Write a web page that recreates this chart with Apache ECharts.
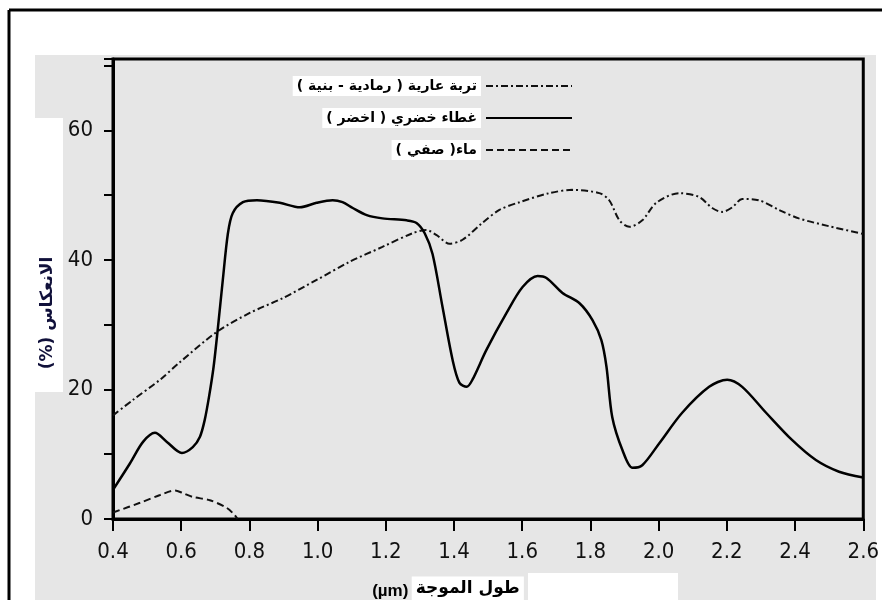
<!DOCTYPE html>
<html>
<head>
<meta charset="utf-8">
<script src="https://cdn.jsdelivr.net/npm/echarts@6/dist/echarts.min.js"></script>
<style>
html,body{margin:0;padding:0;background:#fff;}
#c{width:882px;height:600px;}
</style>
</head>
<body>
<div id="c"></div>
<script>
// ---- data ----
const xTicks = [0.4,0.6,0.8,1.0,1.2,1.4,1.6,1.8,2.0,2.2,2.4,2.6];
const yTicks = [0,20,40,60];

const soilName  = 'تربة عارية ( رمادية - بنية )\u200F';
const vegName   = 'غطاء خضري ( اخضر )\u200F';
const waterName = 'ماء( صفي )\u200F';

const soilX = [0.40,0.459,0.538,0.596,0.705,0.801,0.898,0.997,1.094,1.19,1.278,1.319,1.349,1.387,1.425,1.483,1.533,1.592,1.68,1.747,1.826,1.855,1.885,1.914,1.952,1.993,2.06,2.119,2.157,2.186,2.216,2.245,2.294,2.353,2.411,2.499,2.6];
const soilY = [16.0,18.4,21.5,24.2,28.9,31.8,34.1,36.9,39.7,42.0,44.1,44.6,43.8,42.5,43.1,45.7,47.7,48.9,50.3,50.8,50.3,49.2,46.1,45.1,46.1,48.8,50.3,49.7,48.0,47.4,48.1,49.4,49.2,47.7,46.4,45.2,44.0];

const vegX = [0.40,0.45,0.488,0.523,0.558,0.602,0.634,0.655,0.669,0.682,0.695,0.707,0.722,0.737,0.751,0.781,0.822,0.889,0.948,0.997,1.044,1.073,1.103,1.144,1.19,1.261,1.29,1.314,1.337,1.366,1.396,1.416,1.437,1.454,1.495,1.554,1.601,1.645,1.671,1.718,1.768,1.806,1.832,1.847,1.864,1.894,1.923,1.952,2.002,2.069,2.148,2.201,2.245,2.315,2.391,2.461,2.529,2.6];
const vegY = [4.5,8.6,11.9,13.3,11.9,10.2,11.1,12.7,15.3,19.0,23.5,29.2,36.9,44.1,47.2,48.9,49.2,48.8,48.1,48.8,49.2,48.9,48.0,46.9,46.4,46.1,45.7,44.1,40.9,32.8,24.5,21.0,20.4,21.5,26.1,31.8,35.8,37.5,37.2,34.9,33.3,30.7,27.6,23.5,15.7,10.6,7.9,8.3,11.7,16.4,20.4,21.5,20.4,16.4,12.2,9.1,7.3,6.4];

const waterX = [0.40,0.479,0.538,0.582,0.605,0.634,0.684,0.734,0.757,0.765];
const waterY = [1.0,2.5,3.7,4.4,4.0,3.4,2.9,1.7,0.6,0.0];

const zip = (a,b) => a.map((v,i)=>[v,b[i]]);

const numFont = '"Liberation Sans Narrow","DejaVu Sans Condensed","Liberation Sans",Arial,sans-serif';
const arFont = '"DejaVu Sans","Noto Sans",sans-serif';

const chart = echarts.init(document.getElementById('c'), null, {renderer:'canvas'});

function legendFor(name, top){
  return {
    data:[name], right:309, top:top, padding:0, orient:'vertical', align:'right',
    itemWidth:86, itemHeight:14, selectedMode:false,
    itemStyle:{opacity:0, borderWidth:0},
    textStyle:{color:'#000', fontFamily:arFont, fontWeight:'bold', fontSize:14,
      backgroundColor:'#fff', padding:[3,4,3,4]}
  };
}

chart.setOption({
  animation:false,
  backgroundColor:'#fff',
  color:['#000','#000','#000'],
  graphic:[
    {type:'rect', z:-10, silent:true, shape:{x:35,y:55,width:841,height:545}, style:{fill:'#e6e6e6'}},
    {type:'rect', z:-9, silent:true, shape:{x:35,y:118,width:28,height:274}, style:{fill:'#fff'}},
    {type:'rect', z:-9, silent:true, shape:{x:528,y:573,width:150,height:27}, style:{fill:'#fff'}},
    {type:'line', z:50, silent:true, shape:{x1:9,y1:10,x2:882,y2:10}, style:{stroke:'#000',lineWidth:3}},
    {type:'line', z:50, silent:true, shape:{x1:9,y1:10,x2:9,y2:600}, style:{stroke:'#000',lineWidth:3}},
    {type:'text', z:50, silent:true, x:48, y:313, rotation:Math.PI/2,
      style:{text:'(%) الانعكاس', font:'bold 17px "DejaVu Sans"', fill:'#10103a',
        align:'center', verticalAlign:'middle', backgroundColor:'#fff', padding:[4,5,4,5]}},
    {type:'text', z:50, silent:true, x:448, y:591,
      style:{text:'{a|(µm)} {b|طول الموجة}', align:'center', verticalAlign:'middle',
        rich:{
          a:{font:'bold 17px "Liberation Sans"', fill:'#000'},
          b:{font:'bold 17px "DejaVu Sans"', fill:'#000', backgroundColor:'#fff', padding:[4,4,8,4]}
        }}}
  ],
  grid:{left:113, right:18, top:59, bottom:81, show:true, borderColor:'#000', borderWidth:3, backgroundColor:'transparent'},
  legend:[legendFor(soilName,76), legendFor(vegName,108), legendFor(waterName,140)],
  xAxis:{
    type:'value', min:0.4, max:2.6, interval:0.2,
    axisLine:{lineStyle:{color:'#000', width:3}},
    axisTick:{length:12, lineStyle:{color:'#000', width:2}},
    axisLabel:{color:'#111', fontFamily:numFont, fontSize:22, margin:22,
      formatter:v=>{const t=xTicks.find(k=>Math.abs(k-v)<1e-6); return t===undefined?'':t.toFixed(1);}},
    splitLine:{show:false}
  },
  yAxis:{
    type:'value', min:0, max:71, interval:10,
    axisLine:{show:true, lineStyle:{color:'#000', width:3}},
    axisTick:{show:true, length:9, lineStyle:{color:'#000', width:2}},
    axisLabel:{color:'#111', fontFamily:numFont, fontSize:22, margin:20,
      formatter:v=> yTicks.includes(v) ? String(v) : ''},
    splitLine:{show:false}
  },
  series:[
    {name:soilName, type:'line', data:zip(soilX,soilY), smooth:0.3, symbol:'none',
      itemStyle:{color:'#111'}, lineStyle:{color:'#111', width:2, type:[7,3,2,3]}},
    {name:vegName, type:'line', data:zip(vegX,vegY), smooth:0.3, symbol:'none',
      itemStyle:{color:'#000'}, lineStyle:{color:'#000', width:2.5}},
    {name:waterName, type:'line', data:zip(waterX,waterY), smooth:0.3, symbol:'none',
      itemStyle:{color:'#111'}, lineStyle:{color:'#111', width:2, type:[7,4]}}
  ]
});
</script>
</body>
</html>
